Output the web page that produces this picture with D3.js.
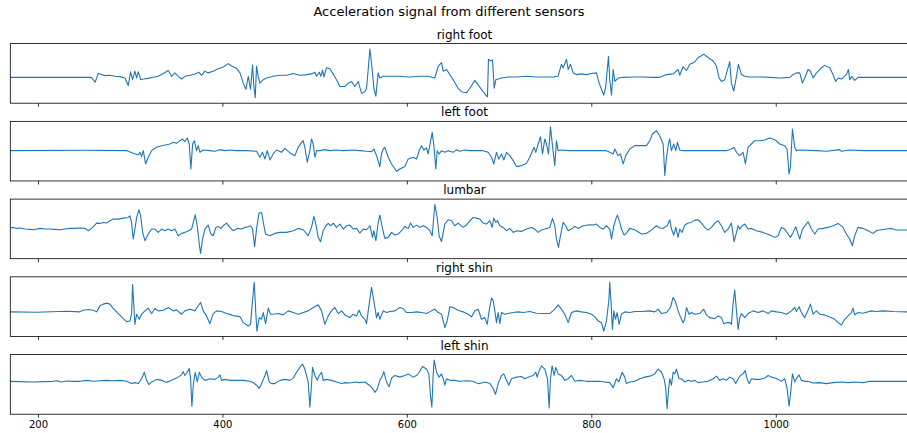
<!DOCTYPE html>
<html lang="en">
<head>
<meta charset="UTF-8">
<title>Acceleration signal from different sensors</title>
<script src="https://cdn.jsdelivr.net/npm/d3@7"></script>
<style>
  body { margin: 0; background: #fff; }
  text { font-family: "DejaVu Sans", sans-serif; fill: #000; }
</style>
</head>
<body>
<svg id="main" width="907" height="433"></svg>
<script>
// readings: [time step, acceleration (arbitrary units)]
const rightFoot = [[170,0],[258,0],[262,-14],[265.4,11],[269,8],[272.6,5],[278,6],[283.5,3],[288.9,2],[294.3,-2],[297.9,-24],[300.4,16],[302.6,-7],[305.1,18],[307,-2],[308.8,16],[311.3,-7],[314.2,-5],[319.6,-3],[325,0],[330.4,3],[335.9,11],[341.3,20],[344.9,3],[348.5,13],[352.1,3],[355.7,-5],[359.3,3],[364.8,6],[370.2,10],[374.5,15],[377.4,6],[381,18],[384.6,13],[390,18],[395.5,25],[400.9,30],[406.3,40],[409.9,33],[415.4,26],[419,13],[422.6,-17],[425.5,-35],[428,3],[430.5,-35],[432.7,36],[434.1,-27],[435.6,-60],[437,33],[438.8,3],[440.6,-17],[444.3,-7],[447.9,-2],[455.1,3],[462.3,6],[469.6,6],[476.8,11],[484,6],[491.2,8],[496.6,10],[500.3,15],[502.1,3],[505,15],[506.8,3],[508.6,21],[510,1],[512.9,28],[516.5,25],[520.1,10],[523.7,-7],[527.4,-27],[532.8,-27],[536.4,-17],[540,-12],[543.6,-27],[547.2,-12],[550.9,-47],[554.5,-42],[556.3,-32],[558.1,23],[559.9,83],[562.4,23],[564.2,-32],[566.4,-55],[568.9,13],[570.7,-2],[574.3,3],[581.6,3],[592.4,3],[603.3,1],[614.1,3],[623.1,3],[630.3,-2],[634,33],[637.6,43],[639.4,18],[643,23],[646.6,8],[650.2,-7],[655.6,-32],[659.2,-42],[664.7,-45],[668.3,-32],[673.7,-9],[677.3,-22],[682.7,-42],[685.6,-52],[687.4,-57],[688.5,53],[690.7,48],[692.9,51],[694.7,-32],[696.5,-7],[699,-5],[702.6,-2],[709.8,1],[718.9,1],[729.7,3],[740.5,1],[751.4,1],[758.6,1],[764,3],[767.6,38],[769.5,28],[773.1,53],[774.9,23],[777.4,38],[780.3,13],[783.9,8],[789.3,10],[794.7,8],[800.2,11],[805.6,13],[808.5,-17],[811,-35],[813.5,-52],[815.7,-27],[818.6,61],[820,-7],[821.9,-52],[823.7,23],[825.5,-12],[829.1,-2],[834.5,0],[845.3,1],[856.2,1],[867,0],[874.2,0],[881.5,8],[888.7,10],[894.1,23],[895.9,6],[899.5,31],[903.2,20],[906.8,38],[912.2,45],[915.8,58],[919.4,63],[921.9,68],[926.6,58],[932.1,48],[935.7,33],[938.6,-2],[941.1,-12],[944.7,-7],[950.1,46],[951.9,-17],[954.5,-40],[957.4,3],[959.5,38],[962.8,8],[966.4,3],[971.8,1],[982.6,1],[993.5,0],[1004.3,-2],[1015.2,0],[1018.8,8],[1022.4,13],[1026,13],[1028.9,-17],[1031.4,-2],[1035,23],[1037.6,18],[1040.5,-2],[1044.1,13],[1049.5,28],[1053.1,35],[1058.5,28],[1062.1,8],[1065,-12],[1067.6,-2],[1071.2,-5],[1076.6,8],[1078.8,23],[1080.2,-7],[1082.4,3],[1085.6,-9],[1089.2,0],[1094.7,0],[1155,0]];

const leftFoot = [[170,0],[252.7,1],[296.1,0],[297.9,-2],[303.3,-8],[308.8,-13],[310.6,-5],[312.4,-18],[314.2,0],[316.7,-40],[319.6,-20],[323.2,0],[328.6,10],[334.1,15],[339.5,18],[343.1,20],[346.7,25],[350.3,22],[353.9,30],[356.8,35],[359.3,27],[361.9,38],[364,20],[365.8,-55],[367.7,20],[369.5,30],[372,0],[373.8,15],[375.6,-5],[379.2,2],[386.4,0],[391.9,-2],[397.3,3],[402.7,0],[408.1,2],[415.4,0],[426.2,0],[437,-2],[440.6,-20],[443.5,-5],[446.1,-25],[448.6,0],[451.5,-28],[455.1,-10],[458.7,2],[464.1,-5],[467.7,7],[471.4,-2],[475,-10],[478.6,-15],[482.2,10],[485.8,25],[487.6,30],[489.4,10],[492,-35],[494.8,0],[496.6,35],[498.5,20],[500.3,-20],[502.1,0],[505.7,0],[511.1,3],[516.5,0],[523.7,2],[531,0],[541.8,2],[549,0],[556.3,-2],[561.7,-3],[564.2,5],[567.1,-15],[570.7,-48],[572.5,-10],[574.3,5],[576.1,10],[579.8,-20],[583.4,-40],[588.8,-62],[592.4,-55],[597.8,-48],[601.4,-25],[606.9,-20],[610.5,-25],[613.4,0],[615.9,15],[618.4,2],[621.3,8],[623.1,-10],[624.9,15],[627.5,55],[629.3,15],[631.4,-55],[632.9,0],[635,-10],[637.6,0],[641.2,-5],[644.8,0],[650.2,-5],[653.8,3],[657.5,-2],[662.9,2],[668.3,0],[675.5,0],[682.7,0],[688.2,-5],[691.8,-20],[694.3,-40],[697.2,-5],[699.7,-25],[702.6,-10],[705.1,-28],[708,-5],[711.6,-15],[715.3,-30],[718.9,-48],[724.3,-45],[729.7,-38],[733.3,-20],[736.2,0],[738,10],[739.8,-5],[742.4,20],[744.9,42],[747.1,-10],[749.6,35],[751.4,20],[753.6,-10],[755.7,72],[757.9,15],[760.4,-45],[762.2,30],[764,0],[767.6,2],[776.7,0],[791.1,0],[805.6,0],[816.4,0],[820,-5],[823.7,-10],[825.5,5],[829.1,-15],[831.6,-10],[834.5,-40],[837.4,-15],[841.7,5],[847.1,15],[854.4,15],[859.8,15],[863.4,30],[866.3,50],[870.6,60],[874.2,45],[877.9,20],[879.7,-75],[881.5,-20],[883.6,20],[885.1,35],[886.9,0],[889.4,20],[891.6,0],[893.4,25],[895.9,2],[899.5,0],[917.6,0],[935.7,0],[946.5,0],[951.9,5],[954.5,10],[957.4,-5],[961,-15],[964.6,-5],[967.1,-40],[970,10],[973.6,20],[977.2,30],[982.6,30],[988.1,32],[993.5,38],[998.9,33],[1004.3,20],[1009.7,15],[1012.3,5],[1014.4,-70],[1015.9,-50],[1018.1,65],[1020.6,10],[1022.4,0],[1026,2],[1044.1,0],[1054.9,-2],[1069.4,3],[1071.2,-2],[1080.2,2],[1094.7,0],[1155,0]];

const lumbar = [[170,3],[173.3,5],[176.9,2],[180.5,3],[185.9,0],[191.3,-1],[196.7,-2],[198.5,0],[202.2,2],[207.6,0],[213,0],[218.4,-1],[223.8,-2],[229.3,0],[234.7,2],[240.1,2],[245.5,3],[250.9,2],[254.6,-5],[258.2,2],[263.6,18],[267.2,17],[270.8,20],[274.4,18],[278,25],[281.7,30],[287.1,30],[292.5,33],[297.9,35],[299.7,40],[301.5,20],[303.3,-30],[305.1,0],[307,35],[309.5,58],[311.3,40],[313.5,-10],[316,-35],[319.6,-15],[323.2,0],[326.8,0],[330.4,-10],[334.1,0],[337.7,-5],[341.3,0],[344.9,-5],[348.5,0],[352.1,-20],[355.7,-13],[361.2,-8],[366.6,0],[368.4,20],[370.5,43],[372.7,10],[374.9,-45],[376.3,-73],[378.5,-30],[381,0],[384.6,12],[387.5,-15],[390,-20],[392.9,5],[395.5,8],[398.4,2],[401.6,12],[404.5,18],[408.1,5],[411.7,-5],[416.1,2],[420.8,0],[424.4,5],[428,7],[430.5,10],[432.7,0],[434.9,-53],[437,0],[439.6,48],[442.5,50],[444.3,20],[446.8,-15],[451.5,-20],[456.9,-13],[462.3,-10],[469.6,-10],[476.8,-5],[482.2,2],[487.6,-2],[493,-20],[496.6,5],[499.2,38],[501.3,15],[503.9,-25],[506.4,-38],[509.3,-5],[512.2,10],[514.7,17],[517.6,10],[520.1,18],[523.7,5],[527.4,15],[531,0],[534.6,10],[538.2,12],[541.8,0],[545.4,2],[549,-12],[552.7,0],[556.3,-2],[559.9,10],[562.8,-25],[564.2,-5],[566.4,-35],[568.9,20],[570.7,42],[573.3,5],[576.1,-28],[579.8,-25],[583.4,-10],[587,-18],[590.6,-15],[594.2,-5],[597.8,8],[601.4,2],[604,18],[606.9,5],[610.5,12],[614.1,5],[617.7,10],[621.3,5],[624.9,-5],[627.5,-20],[630.3,74],[632.9,35],[635,-20],[637.6,-38],[641.2,15],[644.8,28],[648.4,25],[652,10],[655.6,18],[661,5],[664.7,12],[668.3,25],[671.9,35],[675.5,33],[679.1,30],[682.7,18],[686.3,15],[690,25],[692.5,5],[694.3,33],[696.5,20],[698.3,25],[700.8,10],[704.4,5],[708,-5],[711.6,2],[715.3,-10],[718.9,-5],[724.3,-7],[729.7,0],[735.1,5],[738.7,0],[742.4,-10],[746,-3],[749.6,0],[755,5],[757.9,32],[760.4,10],[762.2,-30],[764.4,-55],[766.6,-20],[769.5,20],[772.3,10],[774.9,-5],[778.5,0],[782.1,8],[785.7,2],[791.1,10],[798.4,13],[802,12],[805.6,15],[809.2,5],[812.8,0],[816.4,10],[820,0],[821.9,-30],[824.4,10],[826.5,30],[828.3,42],[830.9,20],[832.7,0],[835.6,-18],[838.8,-10],[841.7,2],[847.1,-2],[854.4,-15],[859.8,-13],[865.2,-3],[870.6,10],[874.2,3],[877.9,2],[882.2,10],[885.1,28],[886.9,0],[889.4,-18],[891.6,5],[894.1,-25],[895.9,0],[898.5,-10],[901.3,12],[905,18],[908.6,20],[912.2,27],[915.8,28],[919.4,18],[923,5],[926.6,-3],[930.3,5],[933.9,18],[937.5,25],[941.1,10],[944.7,-10],[948.3,0],[951.9,18],[954.8,-38],[957.4,-10],[959.2,10],[961,0],[963.5,10],[966.4,15],[970,0],[973.6,2],[979,-5],[986.3,-10],[993.5,-18],[998.9,-25],[1002.5,-20],[1006.1,5],[1009.7,0],[1013.4,-15],[1015.9,-25],[1018.8,-10],[1021.7,7],[1024.2,-15],[1026,-30],[1028.9,0],[1031.4,8],[1035,22],[1038.7,0],[1042.3,-15],[1045.9,0],[1051.3,2],[1056.7,5],[1062.1,10],[1067.6,17],[1073,5],[1076.6,-15],[1080.2,-30],[1083.1,-50],[1085.6,-20],[1089.2,5],[1094.7,2],[1100.1,-5],[1105.5,-13],[1109.1,-5],[1114.5,-2],[1120,0],[1125.4,2],[1130.8,-3],[1141.6,-3],[1155,-3]];

const rightShin = [[170,0],[198.5,-1],[231.1,2],[245.5,0],[249.1,5],[254.6,7],[260,5],[263.6,0],[267.2,18],[270.8,23],[274.4,26],[278,23],[281.7,10],[287.1,-5],[292.5,-20],[296.1,-29],[299.7,-27],[301.5,-7],[302.6,81],[304.1,13],[305.1,-37],[307,-7],[309.8,-22],[312.4,-7],[316,3],[319.6,11],[323.2,-5],[326.8,10],[330.4,3],[335.9,5],[341.3,13],[346.7,3],[350.3,6],[355.7,-7],[359.3,3],[364.8,8],[370.2,3],[373.8,18],[376.3,28],[379.2,3],[382.8,-12],[386.4,-35],[390,-5],[393.7,3],[399.1,1],[404.5,-5],[409.9,-9],[413.5,-12],[419,-14],[422.6,-32],[428,-42],[430.5,-37],[432.3,23],[434.5,88],[436.3,-7],[437.4,-57],[439.9,-17],[442.5,-22],[444.3,-2],[446.8,-35],[449.7,11],[452.2,-7],[455.1,-7],[460.5,-5],[465.9,-9],[471.4,3],[476.8,-2],[482.2,-7],[487.6,-2],[493,3],[498.5,13],[503.9,21],[507.5,3],[511.1,-37],[514.7,-12],[518.3,3],[521.9,13],[525.6,-5],[529.2,3],[532.8,-9],[538.2,-17],[541.8,-7],[545.4,-12],[548.3,5],[550.9,-12],[554.5,-22],[556.3,-35],[558.1,3],[559.9,38],[561.7,73],[564.2,33],[567.1,-17],[568.9,-2],[570.7,-22],[574.3,3],[577.9,-2],[581.6,1],[587,3],[592.4,13],[596,10],[599.6,-2],[605.1,-2],[610.5,0],[615.9,-2],[621.3,-5],[626.7,3],[630.3,8],[634,-2],[637.6,-7],[641.2,-47],[643.7,-27],[646.6,15],[650.2,13],[655.6,5],[661,0],[666.5,-7],[670.1,-15],[673.7,3],[677.3,8],[680.9,-22],[684.5,-17],[687.1,-37],[689.2,3],[691.8,41],[693.6,33],[695.4,3],[697.2,-32],[699,-2],[700.8,-35],[702.6,-2],[706.2,-7],[709.8,-5],[715.3,-2],[720.7,0],[726.1,-2],[733.3,1],[740.5,-4],[747.8,-5],[755,-5],[760.4,8],[764,21],[767.6,8],[771.3,-7],[774.9,-32],[778.5,-2],[783.9,3],[789.3,0],[794.7,-2],[800.2,-7],[803.8,-15],[807.4,-27],[811,-32],[813.5,-57],[816.4,-27],[819,33],[820,88],[821.5,23],[822.9,-52],[824.4,3],[826.2,-22],[828,-2],[830.2,-37],[832.7,-7],[836.3,0],[841.7,-2],[847.1,1],[854.4,1],[863.4,3],[868.8,0],[872.4,8],[876.1,-5],[881.5,-2],[885.8,13],[888.7,43],[891.2,31],[894.1,3],[897,-17],[899.5,-32],[901.3,-22],[903.2,13],[906,-7],[908.6,-2],[912.2,-7],[917.6,-5],[921.9,8],[924.8,-9],[928.4,-17],[933.9,-20],[937.5,-12],[941.1,-17],[943.6,-35],[946.5,-32],[950.1,-32],[951.9,-37],[953.7,23],[955.5,65],[957.4,3],[959.2,-52],[961,-17],[962.8,-5],[966.4,-17],[970,-5],[975.4,3],[980.8,-2],[986.3,3],[991.7,-5],[995.3,3],[1000.7,0],[1006.1,-2],[1011.6,-7],[1017,3],[1020.6,13],[1022.4,1],[1025.3,15],[1027.8,-2],[1031.4,-17],[1035,5],[1037.6,23],[1040.5,-7],[1044.1,3],[1047.7,-7],[1053.1,-9],[1058.5,-15],[1064,-22],[1067.6,-32],[1071.2,-39],[1074.8,-22],[1078.4,-12],[1082,-2],[1083.8,11],[1085.6,-9],[1089.2,-2],[1094.7,-4],[1103.7,3],[1109.1,1],[1116.4,3],[1127.2,1],[1141.6,0],[1155,0]];

const leftShin = [[170,0],[180.5,-1],[194.9,-2],[205.8,-1],[216.6,0],[220.2,2],[225.6,-2],[231.1,1],[238.3,0],[245.5,0],[252.7,3],[260,0],[267.2,2],[274.4,3],[281.7,2],[288.9,3],[296.1,0],[301.5,-7],[305.1,-4],[308.8,-7],[312.4,8],[315.3,28],[317.8,3],[320.3,-10],[323.2,-2],[328.6,6],[334.1,3],[339.5,-4],[344.9,3],[350.3,10],[355.7,20],[357.5,30],[359.3,18],[361.9,28],[364,40],[365.5,8],[366.9,-77],[368.4,-12],[370.5,28],[372.7,-2],[374.9,28],[377.4,13],[381,3],[386.4,8],[391.9,6],[395.5,13],[397.3,20],[399.1,3],[402.7,6],[408.1,3],[415.4,3],[422.6,3],[429.8,0],[433.4,-4],[437,-12],[439.9,-22],[442.5,-7],[446.1,18],[447.9,33],[450.8,-2],[453.3,-7],[456.9,-7],[462.3,3],[467.7,6],[473.2,3],[476.8,10],[480.4,28],[484,43],[486.9,53],[489.4,38],[491.2,18],[493,-2],[494.8,-80],[496.6,-12],[497.7,43],[500.3,18],[502.8,3],[505,18],[507.5,28],[509.3,3],[512.9,6],[518.3,3],[523.7,-2],[529.2,-7],[532.8,-4],[538.2,-5],[543.6,-2],[549,-4],[554.5,-2],[559.2,-12],[562.8,-22],[565.3,-34],[567.8,-24],[570.7,3],[573.6,18],[575,30],[577.9,-2],[580.8,-17],[583.4,10],[587,18],[592.4,13],[597.8,18],[601.4,23],[606.9,13],[610.5,18],[613.4,28],[617,46],[621.3,38],[623.8,23],[625.7,-47],[627.1,-80],[628.5,18],[629.6,66],[632.2,28],[635,13],[637.6,23],[639.4,8],[641.2,-12],[643,8],[646.6,3],[652,3],[657.4,0],[664.7,2],[671.9,0],[675.5,-5],[679.1,-7],[684.5,-2],[690,-7],[693.6,-22],[696.1,-40],[699,-7],[702.6,18],[705.1,23],[708,3],[710.6,-12],[713.4,8],[718.9,13],[724.3,15],[727.9,8],[733.3,15],[736.9,18],[739.8,28],[741.3,13],[743.4,33],[746,48],[749.6,38],[752.5,8],[754.3,-82],[755.7,8],[757.5,48],[759.7,18],[761.5,43],[764,23],[767.6,18],[771.3,3],[774.9,8],[778.5,18],[782.1,0],[787.5,3],[794.7,0],[802,0],[809.2,0],[814.6,-2],[820,-4],[823.7,-20],[827.3,8],[829.8,-2],[833.4,28],[836.3,13],[838.1,-7],[841.7,-2],[847.1,0],[852.6,8],[858,13],[863.4,16],[868.8,23],[872.4,38],[876.1,28],[878.9,8],[880.7,-22],[882.2,-85],[883.6,-32],[885.1,8],[886.9,-12],[888.7,28],[890.5,23],[892.3,38],[895.2,8],[897.7,8],[901.3,-2],[905,3],[908.6,0],[912.2,3],[915.8,-4],[921.2,-2],[926.6,0],[932.1,8],[935.7,16],[939.3,3],[942.9,8],[946.5,3],[950.1,13],[953.7,8],[956.6,-7],[959.2,8],[961.7,18],[964.6,23],[966.8,33],[968.9,8],[971.1,-7],[973.6,8],[977.2,6],[982.6,6],[988.1,10],[991.7,18],[995.3,13],[998.9,10],[1002.5,6],[1006.1,0],[1009.7,8],[1012.3,-22],[1014.4,-77],[1015.9,-42],[1018.1,23],[1020.6,-2],[1022.4,8],[1025.3,20],[1027.8,3],[1031.4,0],[1035,0],[1040.5,-5],[1047.7,-4],[1054.9,-7],[1062.1,-4],[1071.2,-2],[1078.4,-4],[1085.6,-2],[1094.7,-4],[1101.9,0],[1112.7,0],[1123.6,0],[1141.6,0],[1155,0]];

const sensors = ["right foot", "left foot", "lumbar", "right shin", "left shin"];
const signals = [rightFoot, leftFoot, lumbar, rightShin, leftShin];
const xTicks = [200, 400, 600, 800, 1000];
const xRange = [170, 1155];

const left = 10.3, right = 918.7;
const top0 = 43.6, step = 77.75, panelH = 59.6;

const svg = d3.select("#main");

svg.append("text")
    .attr("x", 449)
    .attr("y", 16)
    .attr("text-anchor", "middle")
    .style("font-size", "13px")
    .text("Acceleration signal from different sensors");

const x = d3.scaleLinear().domain(xRange).range([left, right]);

signals.forEach((data, i) => {
    const top = top0 + i * step;
    const ext = d3.extent(data, d => d[1]);
    const pad = (ext[1] - ext[0]) * 0.11;
    const y = d3.scaleLinear().domain([ext[0] - pad, ext[1] + pad]).range([top + panelH, top]);

    const g = svg.append("g");

    g.append("clipPath").attr("id", "clip" + i)
        .append("rect")
        .attr("x", left).attr("y", top)
        .attr("width", right - left).attr("height", panelH);

    g.append("path")
        .datum(data)
        .attr("clip-path", `url(#clip${i})`)
        .attr("fill", "none")
        .attr("stroke", "#1f77b4")
        .attr("stroke-width", 1.1)
        .attr("stroke-linejoin", "round")
        .attr("d", d3.line().x(d => x(d[0])).y(d => y(d[1])));

    const axis = g.append("g")
        .attr("transform", `translate(0,${top + panelH})`)
        .call(d3.axisBottom(x).tickValues(xTicks).tickSize(3.5).tickPadding(3.5)
            .tickFormat(i === signals.length - 1 ? d3.format("d") : () => ""));
    axis.select(".domain").remove();
    axis.selectAll(".tick line").attr("stroke", "#000").attr("stroke-width", 0.8);
    axis.selectAll(".tick text")
        .style("font-family", "DejaVu Sans")
        .style("font-size", "10px")
        .attr("fill", "#000");

    g.append("rect")
        .attr("x", left).attr("y", top)
        .attr("width", right - left).attr("height", panelH)
        .attr("fill", "none")
        .attr("stroke", "#000")
        .attr("stroke-width", 0.8);

    g.append("text")
        .attr("x", (left + right) / 2)
        .attr("y", top - 5)
        .attr("text-anchor", "middle")
        .style("font-size", "12px")
        .text(sensors[i]);
});
</script>
</body>
</html>
